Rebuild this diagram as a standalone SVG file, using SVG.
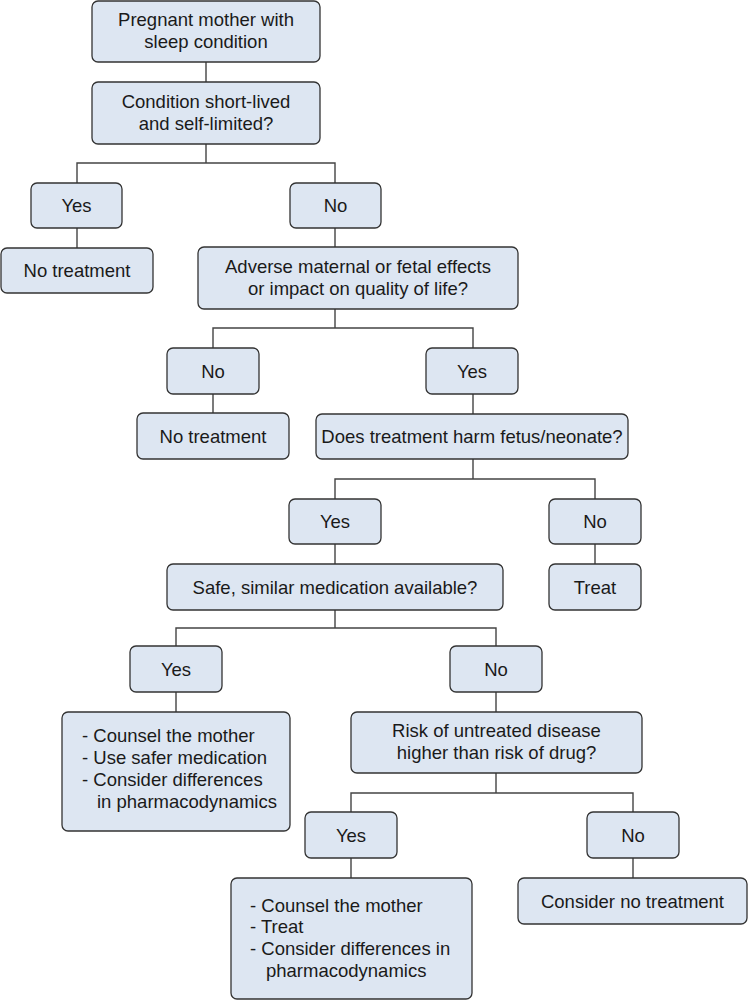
<svg xmlns="http://www.w3.org/2000/svg" width="748" height="1001" viewBox="0 0 748 1001">
<style>
.box{fill:#dde6f2;stroke:#333;stroke-width:1.3}
.t{font-family:"Liberation Sans",Arial,sans-serif;font-size:18.5px;fill:#1a1a1a;text-anchor:middle}
.l{font-family:"Liberation Sans",Arial,sans-serif;font-size:18.5px;fill:#1a1a1a}
.c{fill:none;stroke:#444;stroke-width:1.4}
</style>
<rect width="748" height="1001" fill="#fff"/>
<g id="connectors">
<path class="c" d="M206 62V82M206 144V163M77 183V163H335V183M77 228V248M335 228V247M335 309V328M213 348V328H473V348M213 394V413M473 394V414M473 459V479M335 499V479H595V499M335 544V564M595 544V564M335 610V628M176 646V628H496V646M176 692V712M496 692V712M496 773V793M351 812V793H633V812M351 858V878M633 858V878"/>
</g>
<g id="n1"><rect class="box" x="92" y="1" width="228" height="61" rx="6"/><text class="t" x="206" y="26">Pregnant mother with</text><text class="t" x="206" y="48">sleep condition</text></g>
<g id="n2"><rect class="box" x="92" y="82" width="228" height="62" rx="6"/><text class="t" x="206" y="108">Condition short-lived</text><text class="t" x="206" y="130">and self-limited?</text></g>
<g id="yes1"><rect class="box" x="31" y="183" width="91" height="45" rx="6"/><text class="t" x="76.5" y="212">Yes</text></g>
<g id="no1"><rect class="box" x="290" y="183" width="91" height="45" rx="6"/><text class="t" x="335.5" y="212">No</text></g>
<g id="notreat1"><rect class="box" x="1" y="248" width="152" height="45" rx="6"/><text class="t" x="77" y="277">No treatment</text></g>
<g id="adverse"><rect class="box" x="198" y="247" width="320" height="62" rx="6"/><text class="t" x="358" y="273">Adverse maternal or fetal effects</text><text class="t" x="358" y="295">or impact on quality of life?</text></g>
<g id="no2"><rect class="box" x="167" y="348" width="92" height="46" rx="6"/><text class="t" x="213" y="377.5">No</text></g>
<g id="yes2"><rect class="box" x="426" y="348" width="92" height="46" rx="6"/><text class="t" x="472" y="377.5">Yes</text></g>
<g id="notreat2"><rect class="box" x="137" y="413" width="152" height="46" rx="6"/><text class="t" x="213" y="442.5">No treatment</text></g>
<g id="harm"><rect class="box" x="316" y="414" width="312" height="45" rx="6"/><text class="t" x="472" y="443">Does treatment harm fetus/neonate?</text></g>
<g id="yes3"><rect class="box" x="289" y="499" width="92" height="45" rx="6"/><text class="t" x="335" y="528">Yes</text></g>
<g id="no3"><rect class="box" x="549" y="499" width="92" height="45" rx="6"/><text class="t" x="595" y="528">No</text></g>
<g id="safe"><rect class="box" x="167" y="564" width="336" height="46" rx="6"/><text class="t" x="335" y="593.5">Safe, similar medication available?</text></g>
<g id="treat"><rect class="box" x="549" y="564" width="92" height="46" rx="6"/><text class="t" x="595" y="593.5">Treat</text></g>
<g id="yes4"><rect class="box" x="130" y="646" width="92" height="46" rx="6"/><text class="t" x="176" y="675.5">Yes</text></g>
<g id="no4"><rect class="box" x="450" y="646" width="92" height="46" rx="6"/><text class="t" x="496" y="675.5">No</text></g>
<g id="counsel1"><rect class="box" x="62" y="712" width="228" height="119" rx="6"/><text class="l" x="82" y="742">- Counsel the mother</text><text class="l" x="82" y="764">- Use safer medication</text><text class="l" x="82" y="786">- Consider differences</text><text class="l" x="97" y="808">in pharmacodynamics</text></g>
<g id="risk"><rect class="box" x="351" y="712" width="291" height="61" rx="6"/><text class="t" x="496.5" y="737">Risk of untreated disease</text><text class="t" x="496.5" y="759">higher than risk of drug?</text></g>
<g id="yes5"><rect class="box" x="305" y="812" width="92" height="46" rx="6"/><text class="t" x="351" y="841.5">Yes</text></g>
<g id="no5"><rect class="box" x="587" y="812" width="92" height="46" rx="6"/><text class="t" x="633" y="841.5">No</text></g>
<g id="counsel2"><rect class="box" x="231" y="878" width="241" height="121" rx="6"/><text class="l" x="250" y="912">- Counsel the mother</text><text class="l" x="250" y="933">- Treat</text><text class="l" x="250" y="955">- Consider differences in</text><text class="l" x="266" y="977">pharmacodynamics</text></g>
<g id="consider"><rect class="box" x="518" y="878" width="229" height="46" rx="6"/><text class="t" x="632.5" y="907.5">Consider no treatment</text></g>
</svg>
